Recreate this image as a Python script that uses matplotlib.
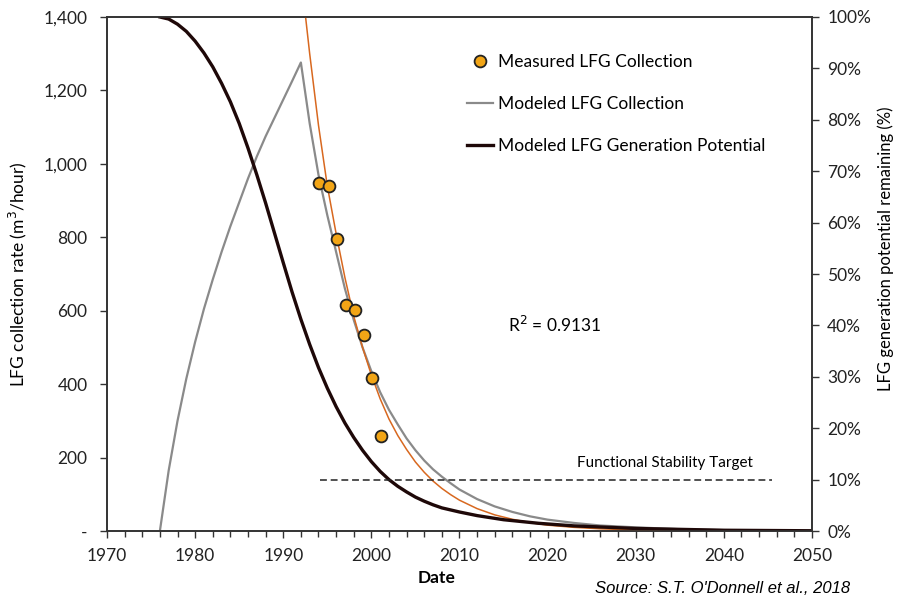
import numpy as np
import matplotlib
import matplotlib.pyplot as plt
from matplotlib.lines import Line2D
from matplotlib.ticker import FuncFormatter, MultipleLocator
matplotlib.use('Agg')

plt.rcParams['font.family'] = ['Lato', 'DejaVu Sans']

# measured collection (m3/hour)
meas_year = [1994.1, 1995.2, 1996.1, 1997.1, 1998.15, 1999.2, 2000.1, 2001.1]
meas_rate = [947, 940, 796, 615, 602, 534, 418, 260]

# modeled collection (m3/hour)
coll_year = [1976, 1977, 1978, 1979, 1980, 1981, 1982, 1983, 1984, 1985, 1986, 1987,
             1988, 1989, 1990, 1991, 1992, 1993, 1994, 1995, 1996, 1997, 1998, 1999,
             2000, 2001, 2002, 2003, 2004, 2005, 2006, 2007, 2008, 2009, 2010, 2012,
             2014, 2016, 2018, 2020, 2023, 2026, 2030, 2035, 2040, 2045, 2050]
coll_rate = [0, 165, 300, 415, 515, 605, 685, 760, 830, 895, 960, 1020,
             1075, 1125, 1175, 1225, 1276, 1110, 970, 860, 760, 660, 575, 500,
             435, 378, 330, 290, 252, 220, 192, 168, 148, 130, 113, 87,
             67, 52, 40, 31, 22, 15, 10, 5, 2.5, 1, 0.5]

# exponential fit to measured data (m3/hour)
fit_year = [1992.3, 1993, 1994, 1995, 1996, 1997, 1998, 1999, 2000, 2001, 2002, 2003,
            2004, 2005, 2006, 2007, 2008, 2009, 2010, 2012, 2014, 2016, 2018, 2020,
            2023, 2026, 2030, 2035, 2040, 2050]
fit_rate = [1450, 1300, 1105, 940, 810, 690, 585, 500, 425, 360, 305, 260,
            222, 188, 160, 136, 116, 99, 84, 61, 44, 32, 23, 16,
            10, 6, 3, 1.5, 0.7, 0.1]

# generation potential remaining (%)
gen_year = [1976, 1977, 1978, 1979, 1980, 1981, 1982, 1983, 1984, 1985, 1986, 1987,
            1988, 1989, 1990, 1991, 1992, 1993, 1994, 1995, 1996, 1997, 1998, 1999,
            2000, 2001, 2002, 2003, 2004, 2005, 2006, 2007, 2008, 2010, 2012, 2015,
            2019, 2023, 2030, 2040, 2050]
gen_pct = [100, 99.6, 98.6, 97.2, 95.3, 93, 90.3, 87.1, 83.5, 79.3, 74.5, 69.3,
           63.8, 58, 52.2, 46.5, 41.2, 36.3, 31.8, 27.8, 24.2, 21, 18.2, 15.7,
           13.5, 11.6, 10, 8.7, 7.6, 6.6, 5.8, 5.1, 4.5, 3.7, 3.0, 2.2,
           1.5, 1.0, 0.5, 0.15, 0.05]

target_pct = 10
target_years = [1994.2, 2045.5]

fig = plt.figure(figsize=(8.97, 5.98), dpi=100)
ax = fig.add_axes([0.1193, 0.112, 0.7859, 0.8596])
ax2 = ax.twinx()

ax.plot(coll_year, coll_rate, color='#8a8a8a', lw=1.6, zorder=2)
ax.plot(fit_year, fit_rate, color='#d8681f', lw=1.1, zorder=3)
ax.plot(meas_year, meas_rate, 'o', color='#f2a516', mec='#222222', mew=1.3, ms=8.5, zorder=5)
ax2.plot(gen_year, gen_pct, color='#1e0808', lw=2.4, zorder=2)
ax2.plot(target_years, [target_pct, target_pct], color='#222222', lw=1.1,
         dashes=(4.5, 2.5), zorder=2)

ax.set_xlim(1970, 2050)
ax.set_ylim(0, 1400)
ax2.set_ylim(0, 100)

ax.xaxis.set_major_locator(MultipleLocator(10))
ax.xaxis.set_minor_locator(MultipleLocator(2))
ax.yaxis.set_major_locator(MultipleLocator(200))
ax2.yaxis.set_major_locator(MultipleLocator(10))
ax.yaxis.set_major_formatter(FuncFormatter(lambda v, p: '-' if v == 0 else f'{int(v):,}'))
ax2.yaxis.set_major_formatter(FuncFormatter(lambda v, p: f'{int(v)}%'))

for a in (ax, ax2):
    for s in a.spines.values():
        s.set_color('#333333')
        s.set_linewidth(1.2)
ax.tick_params(axis='both', which='major', length=5, width=1, colors='#333333',
               labelsize=12.5, labelcolor='#222222')
ax.tick_params(axis='x', which='minor', length=4, width=1, colors='#333333')
ax.tick_params(axis='x', pad=7)
ax.tick_params(axis='y', pad=9)
ax2.tick_params(axis='y', length=5, width=1, colors='#333333', labelsize=12.5,
                labelcolor='#222222', pad=6)

ax.set_xlabel('Date', fontsize=12.5, fontweight='bold')
ax.xaxis.set_label_coords(0.468, -0.075)
ax.set_ylabel('LFG collection rate (m$^3$/hour)', fontsize=12.5)
ax.yaxis.set_label_coords(-0.11, 0.5)
ax2.set_ylabel('LFG generation potential remaining (%)', fontsize=12)
ax2.yaxis.set_label_coords(1.093, 0.55)

ax.text(2015.5, 560, 'R$^2$ = 0.9131', fontsize=12.5, va='center', ha='left')
ax2.text(2033.3, 13.3, 'Functional Stability Target', fontsize=11, va='center', ha='center')

fig.text(0.948, 0.0167, "Source: S.T. O'Donnell et al., 2018", fontsize=12,
         style='italic', family='Liberation Sans', ha='right', va='center')

handles = [
    Line2D([], [], ls='none', marker='o', color='#f2a516', mec='#222222', mew=1.3, ms=8.5),
    Line2D([], [], color='#8a8a8a', lw=1.6),
    Line2D([], [], color='#1e0808', lw=2.4),
]
labels = ['Measured LFG Collection', 'Modeled LFG Collection',
          'Modeled LFG Generation Potential']
ax2.legend(handles, labels, loc='upper left', bbox_to_anchor=(0.5106, 0.928),
           frameon=False, fontsize=12.5, labelspacing=1.5, handlelength=1.5,
           handletextpad=0.3, borderpad=0, borderaxespad=0)

fig.savefig('out.png', dpi=100)
